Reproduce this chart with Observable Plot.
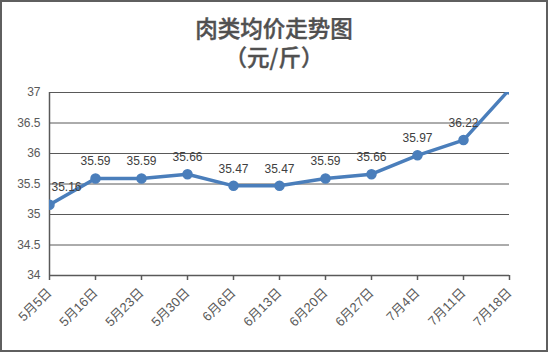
<!DOCTYPE html>
<html><head><meta charset="utf-8">
<script src="https://cdn.jsdelivr.net/npm/d3@7"></script>
<script src="https://cdn.jsdelivr.net/npm/@observablehq/plot@0.6"></script>
<style>
html,body{margin:0;padding:0;background:#fff;}
#wrap{position:relative;width:548px;height:352px;overflow:hidden;background:#fff;}
#title{position:relative;height:76px;color:#505050;font-family:"Noto Sans CJK SC",sans-serif;font-weight:500;-webkit-text-stroke:0.4px #505050;}
#t1{position:absolute;left:0;width:548px;top:15px;text-align:center;font-size:22.5px;line-height:24px;}
#t2{position:absolute;left:0;width:548px;top:44px;text-align:center;font-size:22.5px;line-height:24px;}
#frame{position:absolute;left:0;top:0;width:548px;height:352px;box-sizing:border-box;border:2px solid #5f5f5f;pointer-events:none;}
svg{display:block;}
</style></head>
<body>
<div id="wrap">
  <div id="title"><div id="t1">肉类均价走势图</div><div id="t2">（元/斤）</div></div>
  <div id="chart"></div>
  <div id="frame"></div>
</div>
<script>
const dates = ["5月5日","5月16日","5月23日","5月30日","6月6日","6月13日","6月20日","6月27日","7月4日","7月11日","7月18日"];
const prices = [35.16,35.59,35.59,35.66,35.47,35.47,35.59,35.66,35.97,36.22,37.05];
const yTicks = [34,34.5,35,35.5,36,36.5,37];

const data = dates.map((d,i)=>({date:d, price:prices[i]}));
const font = "'Liberation Sans','Noto Sans CJK SC',sans-serif";
const axisColor = "#595959";
const lineColor = "#4a7ebb";

const chart = Plot.plot({
  width: 548,
  height: 276,
  marginTop: 16,
  marginBottom: 77,
  marginLeft: 49,
  marginRight: 39,
  style: {fontFamily: font, background: "transparent", overflow: "visible"},
  x: {type: "point", domain: dates, padding: 0, label: null},
  y: {domain: [34, 37], ticks: yTicks, label: null},
  marks: [
    Plot.gridY(yTicks, {stroke: axisColor, strokeOpacity: 1, strokeWidth: 1}),
    Plot.axisY(yTicks, {tickSize: 0, tickPadding: 9, fontSize: 12, fill: axisColor, label: null, tickFormat: d => String(d)}),
    Plot.ruleX([dates[0]], {stroke: axisColor, strokeWidth: 1.5}),
    Plot.ruleY([34], {stroke: axisColor, strokeWidth: 1.5}),
    Plot.axisX({tickRotate: -45, tickSize: 5, tickPadding: 10, fontSize: 13, fill: axisColor, stroke: axisColor, strokeWidth: 1.5, label: null}),
    Plot.line(data, {x: "date", y: "price", stroke: lineColor, strokeWidth: 3.5, clip: true}),
    Plot.dot(data, {x: "date", y: "price", r: 4.5, fill: lineColor, stroke: lineColor, clip: true}),
    Plot.text(data.slice(0,1), {x: "date", y: "price", text: d => d.price.toFixed(2), dy: -18, dx: 17, fontSize: 12, fill: "#404040", clip: true}),
    Plot.text(data.slice(1), {x: "date", y: "price", text: d => d.price.toFixed(2), dy: -17, fontSize: 12, fill: "#404040", clip: true})
  ]
});
document.getElementById("chart").appendChild(chart);
</script>
</body></html>
